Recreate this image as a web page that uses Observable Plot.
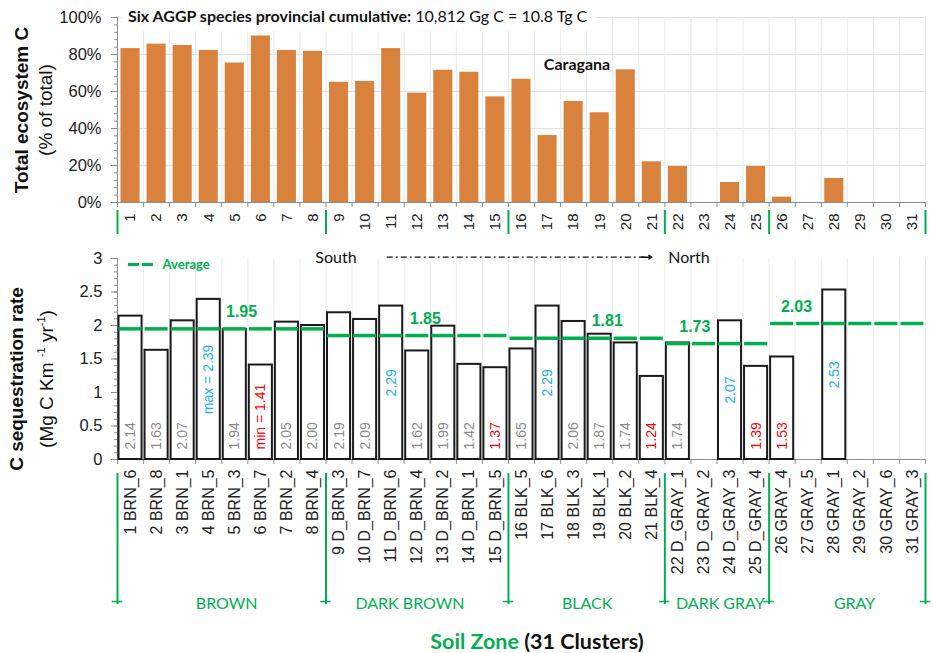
<!DOCTYPE html>
<html>
<head>
<meta charset="utf-8">
<script src="https://cdn.jsdelivr.net/npm/d3@7"></script>
<script src="https://cdn.jsdelivr.net/npm/@observablehq/plot@0.6"></script>
<style>
  body { margin: 0; background: #fff; }
  #wrap { position: relative; width: 933px; height: 653px; overflow: hidden; background: #fff; }
  #top, #bot { position: absolute; left: 0; }
  #top { top: 0; }
  #bot { top: 245px; }
  .ov { position: absolute; white-space: nowrap; color: #111; }
  .ylab { transform: translate(-50%, -50%) rotate(-90deg); text-align: center; font-family: "Liberation Sans", Arial, sans-serif; font-size: 19px; line-height: 24px; }
</style>
</head>
<body>
<div id="wrap">
  <div id="top"></div>
  <div id="bot"></div>
  <div class="ov" id="title" style="left:122px; top:3px; background:#fff; padding:3px 8px 5px 6px; font-family:Lato, sans-serif; font-size:16px; line-height:20px;"><b>Six AGGP species provincial cumulative:</b> 10,812 Gg C = 10.8 Tg C</div>
  <div class="ov ylab" style="left:34px; top:110px;"><b>Total ecosystem C</b><br>(% of total)</div>
  <div class="ov ylab" style="left:32px; top:379px;"><b>C sequestration rate</b><br>(Mg C Km <sup style="font-size:11px">-1</sup> yr<sup style="font-size:11px">-1</sup>)</div>
  <div class="ov" style="left:537px; top:641px; transform:translate(-50%,-50%); font-family:Lato, sans-serif; font-weight:bold; font-size:21.5px;"><span style="color:#00b050">Soil Zone</span> (31 Clusters)</div>
</div>
<script>
// ---------------- data ----------------
const clusterIds = d3.range(1, 32);
const clusterNames = ["1 BRN_6","2 BRN_8","3 BRN_1","4 BRN_5","5 BRN_3","6 BRN_7","7 BRN_2","8 BRN_4",
  "9 D_BRN_3","10 D_BRN_7","11 D_BRN_6","12 D_BRN_4","13 D_BRN_2","14 D_BRN_1","15 D_BRN_5",
  "16 BLK_5","17 BLK_6","18 BLK_3","19 BLK_1","20 BLK_2","21 BLK_4",
  "22 D_GRAY_1","23 D_GRAY_2","24 D_GRAY_3","25 D_GRAY_4",
  "26 GRAY_4","27 GRAY_5","28 GRAY_1","29 GRAY_2","30 GRAY_6","31 GRAY_3"];
// Caragana share of total ecosystem C (%)
const pctTotalC = [83.2,85.6,84.9,82.2,75.4,90,82.2,81.7,65,65.4,83.2,59.1,71.5,70.4,57.1,
  66.6,36.2,54.6,48.5,71.7,22,19.5,0,10.8,19.5,2.9,0,13,0,0,0];
// C sequestration rate (Mg C Km-1 yr-1)
const seqRate = [2.14,1.63,2.07,2.39,1.94,1.41,2.05,2.00,2.19,2.09,2.29,1.62,1.99,1.42,1.37,
  1.65,2.29,2.06,1.87,1.74,1.24,1.74,null,2.07,1.39,1.53,null,2.53,null,null,null];
// label kind: base (gray), low (red), min (red), hi (blue), max (blue)
const labelKind = ["base","base","base","max","base","min","base","base",
  "base","base","hi","base","base","base","low",
  "base","hi","base","base","base","low",
  "base",null,"hi","low","low",null,"hi",null,null,null];
const zoneNames = ["BROWN","DARK BROWN","BLACK","DARK GRAY","GRAY"];
const zoneFirst = [1, 9, 16, 22, 26];
const zoneLast  = [8, 15, 21, 25, 31];
const zoneAvg   = [1.95, 1.85, 1.81, 1.73, 2.03];
const pctTicks  = [0, 20, 40, 60, 80, 100];
const rateTicks = [0, 0.5, 1, 1.5, 2, 2.5, 3];

// ---------------- annotation placement (data units) ----------------
const zoneLabelX = [4.69, 11.72, 18.52, 23.63, 28.78];
const avgLabelX  = [5.26, 12.31, 19.29, 22.65, 26.55];

const green = "#00b050", red = "#ff0000", blue = "#1eaef2", grayTxt = "#8a8a8a", axisGray = "#8c8c8c";
const arial = "'Liberation Sans', Arial, sans-serif";
const lato = "Lato, sans-serif";

const boundaries = d3.range(0.5, 32, 1);
const zoneEdges = [0.5, ...zoneLast.map(d => d + 0.5)];

const topData = clusterIds.map((id, i) => ({id, pct: pctTotalC[i]}));
const botData = clusterIds.map((id, i) => ({id, rate: seqRate[i], kind: labelKind[i]})).filter(d => d.rate != null);
const avgSegs = [];
zoneNames.forEach((z, k) => { for (let id = zoneFirst[k]; id <= zoneLast[k]; id++) avgSegs.push({id, avg: zoneAvg[k]}); });
const avgLabels = zoneAvg.map((a, k) => ({x: avgLabelX[k], avg: a}));
const zoneLabels = zoneNames.map((z, k) => ({x: zoneLabelX[k], name: z}));

// ---------------- top chart ----------------
const topPlot = Plot.plot({
  width: 933, height: 245,
  marginLeft: 117, marginRight: 8, marginTop: 17, marginBottom: 43,
  x: {domain: [0.5, 31.5]},
  y: {domain: [0, 100]},
  style: {fontFamily: arial, fontSize: "15px", color: "#222", background: "transparent", overflow: "visible"},
  marks: [
    Plot.ruleY(pctTicks.slice(1), {stroke: "#e3e3e3"}),
    Plot.ruleX(boundaries.slice(1), {x: d => d, y1: 0, y2: 100, stroke: "#e8e8e8"}),
    Plot.rectY(topData, {x1: d => d.id - 0.5, x2: d => d.id + 0.5, y1: 0, y2: "pct", fill: "#d9823e", insetLeft: 3.5, insetRight: 3.5}),
    Plot.ruleX([0.5], {stroke: axisGray}),
    Plot.ruleY([0], {stroke: axisGray}),
    Plot.axisY({ticks: pctTicks, tickFormat: d => d + "%", tickSize: 6, tickPadding: 10, fontSize: 16.5, label: null, stroke: axisGray}),
    Plot.axisY({ticks: d3.range(0, 101, 4), tickFormat: () => "", tickSize: 3, label: null, stroke: axisGray}),
    Plot.axisX({ticks: boundaries, tickFormat: () => "", tickSize: 5, label: null, stroke: axisGray}),
    Plot.axisX({ticks: clusterIds, tickFormat: d => String(d), tickSize: 0, tickPadding: 11, tickRotate: -90, fontSize: 15, label: null}),
    Plot.ruleX(zoneEdges, {x: d => d, y1: -4.3, y2: -17.3, stroke: green, strokeWidth: 2}),
    Plot.text(["Caragana"], {x: 18.13, y: 74.6, text: d => d, fontFamily: lato, fontWeight: "bold", fontSize: 16, fill: "#111"})
  ]
});
document.getElementById("top").append(topPlot);

// ---------------- bottom chart ----------------
const botPlot = Plot.plot({
  width: 933, height: 408,
  marginLeft: 117, marginRight: 8, marginTop: 13, marginBottom: 194,
  x: {domain: [0.5, 31.5]},
  y: {domain: [0, 3]},
  style: {fontFamily: arial, fontSize: "16px", color: "#222", background: "transparent", overflow: "visible"},
  marks: [
    Plot.ruleX(boundaries.slice(1), {x: d => d, y1: 0, y2: 3, stroke: "#ececec"}),
    Plot.ruleX([0.5], {stroke: axisGray}),
    Plot.ruleY([0], {stroke: axisGray}),
    Plot.axisY({ticks: rateTicks, tickFormat: d => String(d), tickSize: 6, tickPadding: 9, fontSize: 16.5, label: null, stroke: axisGray}),
    Plot.axisY({ticks: d3.range(0, 30.5, 1).map(d => d / 10), tickFormat: () => "", tickSize: 3, label: null, stroke: axisGray}),
    Plot.axisX({ticks: boundaries, tickFormat: () => "", tickSize: 5, label: null, stroke: axisGray}),
    Plot.axisX({ticks: clusterIds, tickFormat: d => clusterNames[d - 1], tickSize: 0, tickPadding: 10, tickRotate: -90, fontSize: 16, label: null}),
    Plot.rectY(botData, {x1: d => d.id - 0.5, x2: d => d.id + 0.5, y1: 0, y2: "rate", fill: "white", stroke: "#1a1a1a", strokeWidth: 2, insetLeft: 1.5, insetRight: 1.5}),
    Plot.ruleY(avgSegs, {y: "avg", x1: d => d.id - 0.5, x2: d => d.id + 0.5, stroke: green, strokeWidth: 3.5, insetLeft: 1.5, insetRight: 1.5}),
    // value labels at base
    Plot.text(botData.filter(d => d.kind === "base" || d.kind === "low" || d.kind === "min"), {
      x: "id", y: 0, dy: -10, rotate: -90, textAnchor: "start", lineAnchor: "middle",
      text: d => d.kind === "min" ? "min = " + d.rate.toFixed(2) : d.rate.toFixed(2),
      fill: d => d.kind === "base" ? grayTxt : red, fontSize: 14, fontFamily: arial}),
    // value labels at center
    Plot.text(botData.filter(d => d.kind === "hi" || d.kind === "max"), {
      x: "id", y: d => d.rate / 2, rotate: -90, textAnchor: "middle", lineAnchor: "middle",
      text: d => d.kind === "max" ? "max = " + d.rate.toFixed(2) : d.rate.toFixed(2),
      fill: blue, fontSize: 14, fontFamily: arial}),
    // average labels
    Plot.text(avgLabels, {x: "x", y: "avg", dy: -17, text: d => d.avg.toFixed(2), fill: green, fontWeight: "bold", fontSize: 16, fontFamily: arial}),
    // legend
    Plot.ruleY([2.91], {x1: 0.92, x2: 1.96, stroke: green, strokeWidth: 3, strokeDasharray: "11,3"}),
    Plot.text(["Average"], {x: 2.23, y: 2.91, text: d => d, textAnchor: "start", fill: green, fontWeight: "bold", fontSize: 13, fontFamily: lato}),
    // South -> North
    Plot.text(["South"], {x: 8.88, y: 3.015, text: d => d, fontSize: 16, fontFamily: lato, fill: "#111"}),
    Plot.text(["North"], {x: 21.63, y: 3.015, text: d => d, textAnchor: "start", fontSize: 16, fontFamily: lato, fill: "#111"}),
    Plot.link([0], {x1: 10.83, x2: 20.75, y1: 3.02, y2: 3.02, stroke: "#111", strokeWidth: 1.3, strokeDasharray: "6,3,2,3"}),
    Plot.arrow([0], {x1: 20.6, x2: 21.0, y1: 3.02, y2: 3.02, stroke: "#111", strokeWidth: 1.5, headLength: 11}),
    // zone brackets
    Plot.ruleX(zoneEdges, {x: d => d, y1: -0.21, y2: -2.164, stroke: green, strokeWidth: 2}),
    Plot.ruleY(zoneEdges, {y: -2.12, x1: d => d - 0.2, x2: d => d + 0.2, stroke: green, strokeWidth: 1.5}),
    Plot.text(zoneLabels, {x: "x", y: -2.149, text: "name", fill: green, fontSize: 16, fontFamily: lato})
  ]
});
document.getElementById("bot").append(botPlot);
</script>
</body>
</html>
